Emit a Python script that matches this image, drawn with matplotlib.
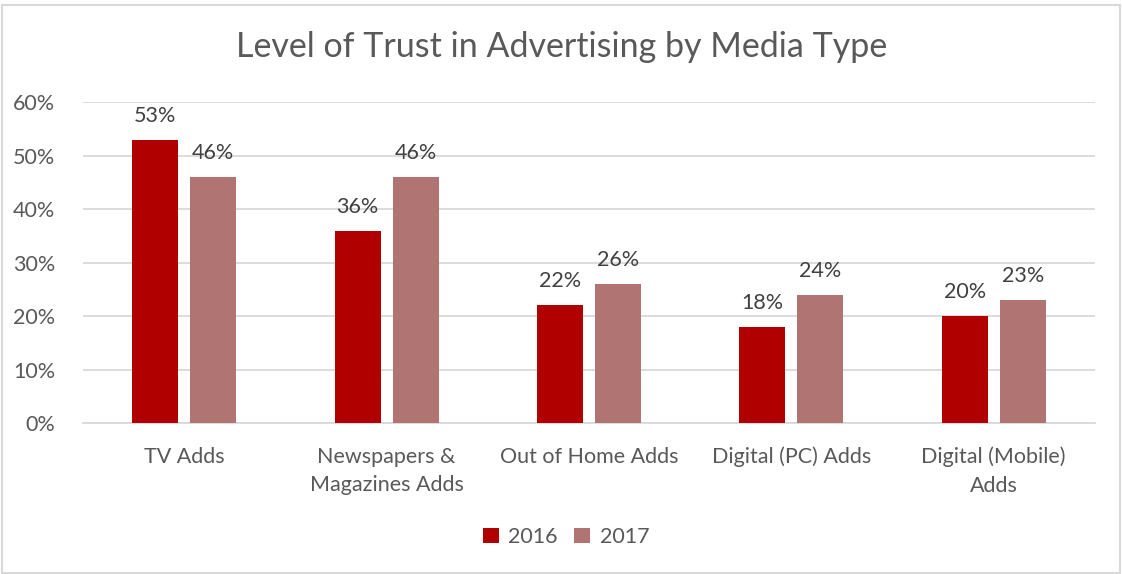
import numpy as np
import matplotlib.pyplot as plt
from matplotlib.patches import Rectangle

plt.rcParams['font.family'] = ['Lato', 'DejaVu Sans']

categories = ['TV Adds', 'Newspapers &\nMagazines Adds', 'Out of Home Adds',
              'Digital (PC) Adds', 'Digital (Mobile)\nAdds']
trust_2016 = [53, 36, 22, 18, 20]
trust_2017 = [46, 46, 26, 24, 23]
years = ['2016', '2017']
colors = ['#b00000', '#b07573']

fig = plt.figure(figsize=(11.23, 5.74), dpi=100)
ax = fig.add_axes([0.074, 0.263, 0.901, 0.559])

x = np.arange(len(categories))
w = 0.227
gap = 0.06
bars_a = ax.bar(x - (w + gap) / 2, trust_2016, w, color=colors[0], label=years[0], zorder=3)
bars_b = ax.bar(x + (w + gap) / 2, trust_2017, w, color=colors[1], label=years[1], zorder=3)

for bars, vals in [(bars_a, trust_2016), (bars_b, trust_2017)]:
    for b, v in zip(bars, vals):
        ax.annotate(f'{v}%', (b.get_x() + b.get_width() / 2, v),
                    xytext=(0, 10), textcoords='offset points',
                    ha='center', va='bottom', fontsize=15.5, color='#404040')

ax.set_xlim(-0.5, len(categories) - 0.5)
ax.set_ylim(0, 60)
ax.set_yticks(range(0, 61, 10))
ax.set_yticklabels([f'{t}%' for t in range(0, 61, 10)])
ax.set_xticks(x)
ax.set_xticklabels(categories, linespacing=1.55)
ax.tick_params(axis='both', length=0, labelsize=15.5, labelcolor='#595959')
ax.tick_params(axis='y', pad=20)
ax.tick_params(axis='x', pad=17)
ax.grid(axis='y', color='#d9d9d9', linewidth=1.3, zorder=0)
for s in ['top', 'right', 'left']:
    ax.spines[s].set_visible(False)
ax.spines['bottom'].set_color('#d9d9d9')
ax.spines['bottom'].set_linewidth(1.3)

fig.text(0.5, 1 - 47 / 574, 'Level of Trust in Advertising by Media Type',
         ha='center', va='center', fontsize=24.5, color='#595959')

fig.legend(loc='center', bbox_to_anchor=(0.504, 1 - 537 / 574), ncol=2, frameon=False,
           fontsize=15.5, labelcolor='#595959', handlelength=0.75, handleheight=0.75,
           handletextpad=0.45, columnspacing=0.75)

fig.patches.append(Rectangle((0.002, 0.002), 0.995, 0.99, transform=fig.transFigure,
                             fill=False, edgecolor='#d9d9d9', linewidth=1.5))

fig.savefig('out.png', dpi=100)
